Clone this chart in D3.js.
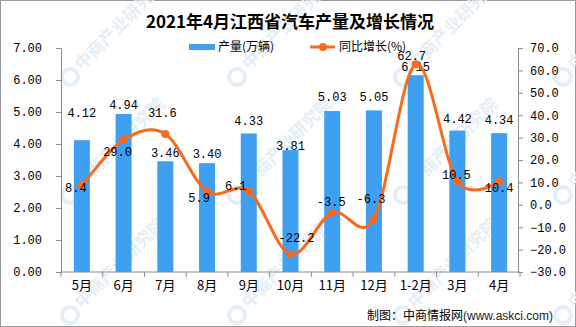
<!DOCTYPE html>
<html><head><meta charset="utf-8">
<script src="https://cdn.jsdelivr.net/npm/d3@7"></script>
<style>body{margin:0;background:#fff}svg{display:block}</style>
</head><body>
<script>
const categories = ["5月","6月","7月","8月","9月","10月","11月","12月","1-2月","3月","4月"];
const output = [4.12,4.94,3.46,3.40,4.33,3.81,5.03,5.05,6.15,4.42,4.34];
const growth = [8.4,29.0,31.6,5.9,6.1,-22.2,-3.5,-6.3,62.7,10.5,10.4];
const leftTicks = [0,1,2,3,4,5,6,7];
const rightTicks = [-30,-20,-10,0,10,20,30,40,50,60,70];
const title = "2021年4月江西省汽车产量及增长情况";
const legendNames = ["产量(万辆)","同比增长(%)"];
const source = "制图：中商情报网";
const sourceUrl = "(www.askci.com)";

// label placement (styling)
const barLabelDy = [-27,-9,-8,-9,-12,-4,-14,-13,-8,-12,-13];
const lineLabelOff = [[-6,2],[-6,12],[-3,-21],[-8,6],[-13,-5],[6,-17],[-1,-11],[-3,-20],[-4,-8],[-1,-6],[0,6]];

const W=576,H=327;
const svg=d3.select("body").append("svg").attr("width",W).attr("height",H);
svg.append("rect").attr("x",0.5).attr("y",0.5).attr("width",W-1).attr("height",H-1).attr("fill","#fff").attr("stroke","#9a9a9a");

// watermark
const wmX=[70,237,403,563], wmY=[77,195,315];
const wm=svg.append("g").attr("fill","#e4eef8").attr("font-family","Noto Sans CJK SC").attr("font-size",17).attr("font-weight","bold");
wmX.forEach(x=>wmY.forEach(y=>{
  wm.append("circle").attr("cx",x).attr("cy",y).attr("r",8).attr("fill","none").attr("stroke","#e4eef8").attr("stroke-width",4);
  wm.append("text").attr("transform",`translate(${x+12},${y-6}) rotate(-45)`).text("中商产业研究院");
}));

const x0=61,x1=520,yTop=48,yBot=272;
const x=d3.scaleBand().domain(categories).range([x0,x1]);
const yL=d3.scaleLinear().domain([0,7]).range([yBot,yTop]);
const yR=d3.scaleLinear().domain([-30,70]).range([yBot,yTop]);
const numFont="Liberation Mono";
const axisColor="#8c8c8c";

// left axis
const gL=svg.append("g").attr("transform",`translate(${x0},0)`)
  .call(d3.axisLeft(yL).tickValues(leftTicks).tickFormat(d3.format(".2f")).tickSize(5).tickPadding(14));
// right axis
const gR=svg.append("g").attr("transform",`translate(${x1-2},0)`)
  .call(d3.axisRight(yR).tickValues(rightTicks).tickFormat(d3.format(".1f")).tickSize(5).tickPadding(7));
// bottom axis
const gB=svg.append("g").attr("transform",`translate(0,${yBot})`)
  .call(d3.axisBottom(x).tickSize(0).tickPadding(9));
[gL,gR,gB].forEach(g=>{
  g.selectAll("path,line").attr("stroke",axisColor);
  g.selectAll("text").attr("font-family",numFont).attr("font-size",12).attr("fill","#000");
});
gB.select(".domain").attr("d",`M${x0},0H${x1}`);
gB.selectAll("text").attr("font-family","Noto Sans CJK SC, Liberation Mono").attr("font-size",13);
// category boundary ticks
svg.append("g").selectAll("line").data(d3.range(categories.length+1)).join("line")
  .attr("x1",i=>x0+i*x.step()).attr("x2",i=>x0+i*x.step())
  .attr("y1",yBot).attr("y2",yBot+5).attr("stroke",axisColor);

// bars
const barColor="#3f9ff0";
const bw=16;
svg.append("g").selectAll("rect").data(output).join("rect")
  .attr("x",(d,i)=>x(categories[i])+x.bandwidth()/2-bw/2)
  .attr("y",d=>yL(d)).attr("width",bw).attr("height",d=>yBot-yL(d)).attr("fill",barColor);
svg.append("g").selectAll("text").data(output).join("text")
  .attr("x",(d,i)=>x(categories[i])+x.bandwidth()/2)
  .attr("y",(d,i)=>yL(d)+barLabelDy[i]+4)
  .attr("text-anchor","middle").attr("font-family",numFont).attr("font-size",12)
  .text(d=>d.toFixed(2));

// line
const lineColor="#f96a1d";
const cx=i=>x(categories[i])+x.bandwidth()/2;
const line=d3.line().x((d,i)=>cx(i)).y(d=>yR(d)).curve(d3.curveCardinal.tension(0));
svg.append("path").datum(growth).attr("d",line).attr("fill","none").attr("stroke",lineColor).attr("stroke-width",3);
svg.append("g").selectAll("circle").data(growth).join("circle")
  .attr("cx",(d,i)=>cx(i)).attr("cy",d=>yR(d)).attr("r",4).attr("fill",lineColor);
svg.append("g").selectAll("text").data(growth).join("text")
  .attr("x",(d,i)=>cx(i)+lineLabelOff[i][0])
  .attr("y",(d,i)=>yR(d)+lineLabelOff[i][1]+4)
  .attr("text-anchor","middle").attr("font-family",numFont).attr("font-size",12)
  .text(d=>d.toFixed(1));

// title
svg.append("text").attr("x",290).attr("y",28).attr("text-anchor","middle")
  .attr("font-family","Noto Sans CJK SC").attr("font-weight","bold").attr("font-size",17).text(title);

// legend
const lg=svg.append("g");
lg.append("rect").attr("x",189).attr("y",44).attr("width",26).attr("height",6).attr("fill",barColor);
lg.append("text").attr("x",218).attr("y",51).attr("font-family","Noto Sans CJK SC").attr("font-size",12).text(legendNames[0]);
lg.append("line").attr("x1",310).attr("x2",335).attr("y1",47).attr("y2",47).attr("stroke",lineColor).attr("stroke-width",3);
lg.append("circle").attr("cx",323).attr("cy",47).attr("r",4).attr("fill",lineColor);
lg.append("text").attr("x",339).attr("y",51).attr("font-family","Noto Sans CJK SC").attr("font-size",12).text(legendNames[1]);

// source
const st=svg.append("text").attr("x",553).attr("y",320).attr("text-anchor","end").attr("font-size",12);
st.append("tspan").attr("font-family","Noto Sans CJK SC").text(source);
st.append("tspan").attr("font-family","Liberation Sans").attr("fill","#222").text(sourceUrl);
</script>
</body></html>
